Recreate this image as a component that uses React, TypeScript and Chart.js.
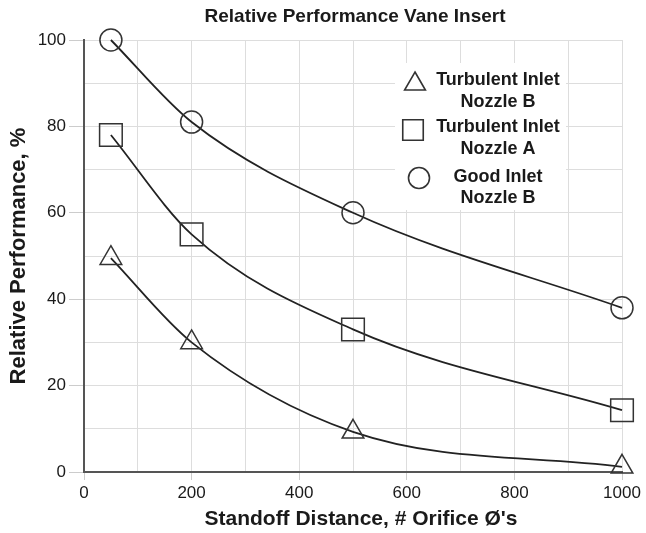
import React, { useEffect, useRef } from 'react';
import { Chart, registerables } from 'chart.js';

Chart.register(...registerables);

const chartTitle = 'Relative Performance Vane Insert';
const xTitle = "Standoff Distance, # Orifice Ø's";
const yTitle = 'Relative Performance, %';

const distances = [50, 200, 500, 1000];
const turbulentNozzleB = [49.5, 30, 9.3, 1.2];
const turbulentNozzleA = [78, 55, 33, 14.3];
const goodNozzleB = [100, 81, 60, 38];

const xTickLabels = [0, 200, 400, 600, 800, 1000];
const yTickLabels = [0, 20, 40, 60, 80, 100];

const seriesLabels = [
  ['Turbulent Inlet', 'Nozzle B'],
  ['Turbulent Inlet', 'Nozzle A'],
  ['Good Inlet', 'Nozzle B'],
];
const seriesStyles = ['triangle', 'rect', 'circle'];
const seriesRadii = [12.5, 16, 11];

const FONT = '"Liberation Sans", Arial, Helvetica, sans-serif';

function drawSymbol(ctx: CanvasRenderingContext2D, style: string, x: number, y: number, r: number) {
  ctx.beginPath();
  if (style === 'triangle') {
    const w = r * Math.sin((2 * Math.PI) / 3);
    ctx.moveTo(x, y - r);
    ctx.lineTo(x + w, y + r / 2);
    ctx.lineTo(x - w, y + r / 2);
    ctx.closePath();
  } else if (style === 'rect') {
    const s = r * Math.SQRT1_2;
    ctx.rect(x - s, y - s, 2 * s, 2 * s);
  } else {
    ctx.arc(x, y, r, 0, Math.PI * 2);
  }
  ctx.stroke();
}

const overlayPlugin = {
  id: 'overlay',
  afterDraw(chart: any) {
    const ctx: CanvasRenderingContext2D = chart.ctx;
    ctx.save();
    ctx.fillStyle = '#1a1a1a';
    ctx.textAlign = 'center';
    ctx.textBaseline = 'middle';
    // title
    ctx.font = `bold 19px ${FONT}`;
    ctx.fillText(chartTitle, 355, 17);
    // x axis title
    ctx.font = `bold 21px ${FONT}`;
    ctx.fillText(xTitle, 361, 519);

    // legend box
    ctx.fillStyle = '#ffffff';
    ctx.fillRect(395, 63, 171, 147);

    const symbolPos = [
      [415, 84],
      [413, 130],
      [419, 178],
    ];
    const textRows = [
      [80, 102],
      [127, 149],
      [177, 198],
    ];
    ctx.strokeStyle = '#333';
    ctx.lineWidth = 1.6;
    seriesStyles.forEach((st, i) => {
      const r = st === 'triangle' ? 12 : st === 'rect' ? 14.5 : 10.5;
      drawSymbol(ctx, st, symbolPos[i][0], symbolPos[i][1], r);
    });
    ctx.fillStyle = '#1a1a1a';
    ctx.font = `bold 18px ${FONT}`;
    seriesLabels.forEach((lines, i) => {
      lines.forEach((t, j) => {
        ctx.fillText(t, 498, textRows[i][j]);
      });
    });
    ctx.restore();
  },
};

export default function App() {
  const ref = useRef<HTMLCanvasElement | null>(null);

  useEffect(() => {
    if (!ref.current) return;
    const series = [turbulentNozzleB, turbulentNozzleA, goodNozzleB];
    const chart = new Chart(ref.current, {
      type: 'line',
      data: {
        datasets: series.map((vals, i) => ({
          label: seriesLabels[i].join(' '),
          data: distances.map((d, k) => ({ x: d, y: vals[k] })),
          borderColor: '#222',
          borderWidth: 1.8,
          pointStyle: seriesStyles[i] as any,
          pointRadius: seriesRadii[i],
          pointBorderColor: '#333',
          pointBorderWidth: 1.5,
          pointBackgroundColor: 'rgba(0,0,0,0)',
          cubicInterpolationMode: 'monotone' as const,
          fill: false,
          clip: false as any,
        })),
      },
      options: {
        animation: false,
        responsive: false,
        maintainAspectRatio: false,
        layout: { padding: { top: 40, right: 24, left: 0, bottom: 0 } },
        plugins: {
          legend: { display: false },
          tooltip: { enabled: false },
          title: { display: false },
        },
        scales: {
          x: {
            type: 'linear',
            min: 0,
            max: 1000,
            afterFit: (s: any) => {
              s.height = 61;
            },
            afterBuildTicks: (s: any) => {
              const t: any[] = [];
              for (let v = 0; v <= 1000; v += 100) t.push({ value: v });
              s.ticks = t;
            },
            ticks: {
              autoSkip: false,
              maxRotation: 0,
              padding: 3,
              color: '#1a1a1a',
              font: { family: FONT, size: 17 },
              callback: (v: any) => (xTickLabels.includes(Number(v)) ? String(v) : ''),
            },
            grid: {
              color: '#dddddd',
              lineWidth: 1,
              tickLength: 8,
              tickColor: (c: any) =>
                c.tick && xTickLabels.includes(c.tick.value) ? '#cccccc' : 'rgba(0,0,0,0)',
            },
            border: { display: true, color: '#555', width: 2 },
            title: { display: false },
          },
          y: {
            type: 'linear',
            min: 0,
            max: 100,
            afterFit: (s: any) => {
              s.width = 84;
            },
            afterBuildTicks: (s: any) => {
              const t: any[] = [];
              for (let v = 0; v <= 100; v += 10) t.push({ value: v });
              s.ticks = t;
            },
            ticks: {
              autoSkip: false,
              padding: 3,
              color: '#1a1a1a',
              font: { family: FONT, size: 17 },
              callback: (v: any) => (yTickLabels.includes(Number(v)) ? String(v) : ''),
            },
            grid: {
              color: '#dddddd',
              lineWidth: 1,
              tickLength: 15,
              tickColor: (c: any) =>
                c.tick && yTickLabels.includes(c.tick.value) ? '#cccccc' : 'rgba(0,0,0,0)',
            },
            border: { display: true, color: '#555', width: 2 },
            title: {
              display: true,
              text: yTitle,
              color: '#1a1a1a',
              font: { family: FONT, size: 22, weight: 'bold' },
              padding: { top: 6, bottom: 0 },
            },
          },
        },
      },
      plugins: [overlayPlugin],
    });
    return () => chart.destroy();
  }, []);

  return (
    <div style={{ position: 'absolute', left: 0, top: 0, width: 646, height: 533, background: '#fff' }}>
      <canvas ref={ref} width={646} height={533} style={{ display: 'block', width: 646, height: 533 }} />
    </div>
  );
}
